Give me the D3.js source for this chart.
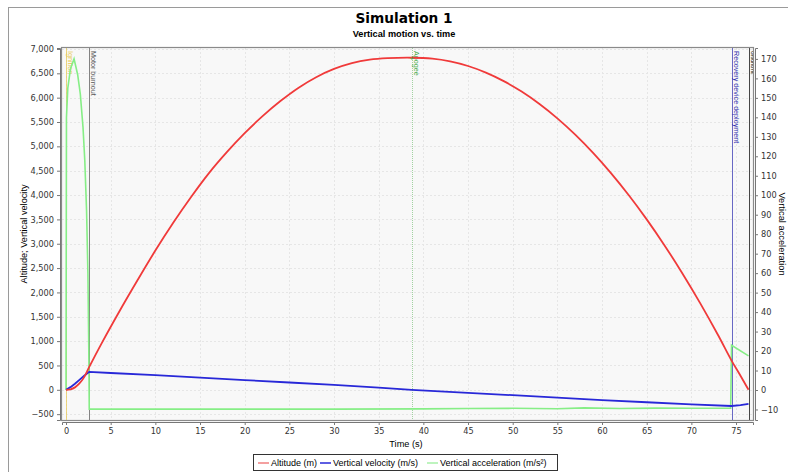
<!DOCTYPE html>
<html>
<head>
<meta charset="utf-8">
<script src="https://cdn.jsdelivr.net/npm/d3@7"></script>
<style>
  body { margin: 0; background: #fff; }
  svg text { font-family: "Liberation Sans", Arial, sans-serif; }
</style>
</head>
<body>
<svg id="target"></svg>
<script>
// Values: [time (s), value]
let altitude = [
    [0, 0], [0.5, 10], [1, 50], [1.5, 130], [2, 250], [2.6, 470], [4, 960],
    [6, 1620], [8, 2250], [10, 2860], [12, 3430], [14, 3960], [16, 4450],
    [18, 4880], [20, 5270], [22, 5620], [24, 5930], [26, 6200], [28, 6420],
    [30, 6590], [32, 6710], [34, 6780], [36, 6810], [38.7, 6820], [41, 6800],
    [43, 6745], [45, 6650], [47, 6515], [49, 6340], [51, 6125], [53, 5870],
    [55, 5575], [57, 5240], [59, 4865], [61, 4450], [63, 3995], [65, 3500],
    [67, 2965], [69, 2390], [71, 1775], [73, 1120], [74.5, 600], [75.5, 290],
    [76.4, 0]
];

let velocity = [
    [0, 0], [0.5, 55], [1, 125], [1.5, 205], [2, 285], [2.6, 370], [5, 345],
    [10, 300], [15, 250], [20, 200], [25, 150], [30, 100], [35, 45],
    [38.7, 0], [45, -65], [50, -110], [55, -160], [60, -210], [65, -255],
    [70, -300], [74.5, -332], [75.5, -315], [76.4, -290]
];

let acceleration = [
    [0, 0], [0.05, 140], [0.2, 155], [0.5, 165], [0.9, 170], [1.3, 162],
    [1.6, 152], [1.9, 135], [2.1, 118], [2.3, 92], [2.45, 60], [2.55, 20],
    [2.6, -9.8], [10, -9.8], [20, -9.8], [30, -9.8], [40, -9.7], [45, -9.5],
    [50, -9.4], [55, -9.6], [58, -9.2], [62, -9.5], [66, -9.3], [70, -9.4],
    [74.4, -9.3], [74.5, 23], [76.4, 17.5]
];

let eventNames = ["Ignition", "Motor burnout", "Apogee", "Recovery device deployment", "Ground hit"];
let eventTimes = [0.05, 2.6, 38.7, 74.5, 76.4];

let xTicks = d3.range(0, 80, 5);
let leftTicks = d3.range(-500, 7001, 500);
let rightTicks = d3.range(-10, 171, 10);

let seriesNames = ["Altitude (m)", "Vertical velocity (m/s)", "Vertical acceleration (m/s\u00b2)"];

// Styles
let seriesColors = ["#f03a3a", "#2828d8", "#86ee86"];
let legendColors = ["#f08080", "#2828d8", "#a8f0a8"];
let eventColors = ["#e8c850", "#555555", "#44aa44", "#3030b0", "#000000"];

let width = 788, height = 472;
let plot = {left: 62, right: 753, top: 48, bottom: 420};

function main() {
    let svg = d3.select("#target")
        .attr("width", width)
        .attr("height", height);

    // outer frame
    svg.append("rect")
        .attr("x", 8.5).attr("y", 7.5)
        .attr("width", 800).attr("height", 500)
        .attr("fill", "none").attr("stroke", "#9a9a9a");

    // titles
    svg.append("text")
        .attr("x", 404).attr("y", 23)
        .attr("text-anchor", "middle")
        .style("font-family", "'DejaVu Sans', Verdana, sans-serif")
        .style("font-weight", "bold")
        .style("font-size", "13.7px")
        .text("Simulation 1");
    svg.append("text")
        .attr("x", 404).attr("y", 37)
        .attr("text-anchor", "middle")
        .style("font-weight", "bold")
        .style("font-size", "9.2px")
        .text("Vertical motion vs. time");

    let x = d3.scaleLinear().domain([-0.45, 76.9]).range([plot.left, plot.right]);
    let yL = d3.scaleLinear().domain([-620, 7020]).range([plot.bottom, plot.top]);
    let yR = d3.scaleLinear().domain([-15.4, 175.6]).range([plot.bottom, plot.top]);

    // plot background
    svg.append("rect")
        .attr("x", plot.left).attr("y", plot.top)
        .attr("width", plot.right - plot.left).attr("height", plot.bottom - plot.top)
        .attr("fill", "#f8f8f8");

    // grid
    let grid = svg.append("g");
    grid.selectAll(".gx").data(xTicks).enter().append("line")
        .attr("x1", d => Math.round(x(d)) + 0.5).attr("x2", d => Math.round(x(d)) + 0.5)
        .attr("y1", plot.top).attr("y2", plot.bottom)
        .attr("stroke", "#e6e6e6").attr("stroke-dasharray", "2,2");
    grid.selectAll(".gy").data(leftTicks).enter().append("line")
        .attr("y1", d => Math.round(yL(d)) + 0.5).attr("y2", d => Math.round(yL(d)) + 0.5)
        .attr("x1", plot.left).attr("x2", plot.right)
        .attr("stroke", "#e6e6e6").attr("stroke-dasharray", "2,2");

    svg.append("clipPath").attr("id", "clip")
        .append("rect")
        .attr("x", plot.left).attr("y", plot.top)
        .attr("width", plot.right - plot.left).attr("height", plot.bottom - plot.top);

    let area = svg.append("g").attr("clip-path", "url(#clip)");

    // event markers
    eventTimes.forEach((t, i) => {
        let ex = Math.round(x(t)) + 0.5;
        area.append("line")
            .attr("x1", ex).attr("x2", ex)
            .attr("y1", plot.top).attr("y2", plot.bottom)
            .attr("stroke", eventColors[i])
            .attr("stroke-width", 0.8)
            .attr("stroke-dasharray", i === 2 ? "1,1" : null)
            .attr("opacity", i === 2 ? 0.6 : 0.9);
        area.append("text")
            .attr("transform", "translate(" + (ex + 1.5) + "," + (plot.top + 3) + ") rotate(90)")
            .style("font-size", i === 4 ? "5px" : "7.2px")
            .attr("fill", eventColors[i])
            .text(eventNames[i]);
    });

    // series lines
    let lineAlt = d3.line().x(d => x(d[0])).y(d => yL(d[1])).curve(d3.curveCatmullRom);
    let lineVel = d3.line().x(d => x(d[0])).y(d => yL(d[1])).curve(d3.curveLinear);
    let lineAcc = d3.line().x(d => x(d[0])).y(d => yR(d[1])).curve(d3.curveLinear);

    area.append("path").datum(acceleration)
        .attr("d", lineAcc)
        .attr("fill", "none").attr("stroke", seriesColors[2]).attr("stroke-width", 1.6);
    area.append("path").datum(velocity)
        .attr("d", lineVel)
        .attr("fill", "none").attr("stroke", seriesColors[1]).attr("stroke-width", 1.8);
    area.append("path").datum(altitude)
        .attr("d", lineAlt)
        .attr("fill", "none").attr("stroke", seriesColors[0]).attr("stroke-width", 1.8);

    // apogee mark
    area.append("text")
        .attr("x", x(38.7)).attr("y", yL(6820) + 3)
        .attr("text-anchor", "middle")
        .style("font-size", "8px")
        .attr("fill", "#44aa44")
        .text("+");

    // plot border
    svg.append("rect")
        .attr("x", plot.left - 0.5).attr("y", plot.top - 0.5)
        .attr("width", plot.right - plot.left + 1).attr("height", plot.bottom - plot.top + 1)
        .attr("fill", "none").attr("stroke", "#8a8a8a").attr("stroke-width", 1.2);

    // axes
    let tickFont = "'DejaVu Sans', Verdana, sans-serif";

    let gx = svg.append("g")
        .attr("transform", "translate(0," + (plot.bottom + 2) + ")")
        .call(d3.axisBottom(x).tickValues(xTicks).tickSize(3).tickPadding(3));
    let gl = svg.append("g")
        .attr("transform", "translate(" + (plot.left - 2) + ",0)")
        .call(d3.axisLeft(yL).tickValues(leftTicks).tickSize(3).tickPadding(3)
            .tickFormat(d3.format(",")));
    let gr = svg.append("g")
        .attr("transform", "translate(" + (plot.right + 2) + ",0)")
        .call(d3.axisRight(yR).tickValues(rightTicks).tickSize(3).tickPadding(3));

    [gx, gl, gr].forEach(g => {
        g.select(".domain").attr("stroke", "#777");
        g.selectAll(".tick line").attr("stroke", "#777");
        g.selectAll(".tick text")
            .attr("fill", "#333")
            .style("font-family", tickFont)
            .style("font-size", "8.2px");
    });

    // axis labels
    svg.append("text")
        .attr("x", 406).attr("y", 447)
        .attr("text-anchor", "middle")
        .style("font-size", "9.2px")
        .text("Time (s)");
    svg.append("text")
        .attr("transform", "translate(27," + ((plot.top + plot.bottom) / 2) + ") rotate(-90)")
        .attr("text-anchor", "middle")
        .style("font-size", "9.2px")
        .text("Altitude; Vertical velocity");
    svg.append("text")
        .attr("transform", "translate(779," + ((plot.top + plot.bottom) / 2) + ") rotate(90)")
        .attr("text-anchor", "middle")
        .style("font-size", "9.3px")
        .text("Vertical acceleration");

    // legend
    let legend = svg.append("g");
    let lx = [258, 320, 427];
    legend.append("rect")
        .attr("x", 253.5).attr("y", 454.5)
        .attr("width", 304).attr("height", 16)
        .attr("fill", "#fff").attr("stroke", "#333");
    seriesNames.forEach((name, i) => {
        legend.append("line")
            .attr("x1", lx[i]).attr("x2", lx[i] + 11)
            .attr("y1", 463).attr("y2", 463)
            .attr("stroke", legendColors[i]).attr("stroke-width", 1.5);
        legend.append("text")
            .attr("x", lx[i] + 13).attr("y", 466)
            .style("font-size", "9px")
            .text(name);
    });
}

main();
</script>
</body>
</html>
